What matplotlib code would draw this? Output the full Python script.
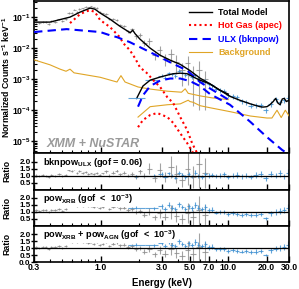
import numpy as np
import matplotlib.pyplot as plt
from matplotlib.ticker import LogLocator, NullFormatter, FixedLocator, FixedFormatter

# ---------------- data ----------------
# XMM (grey) spectrum
xmm_e = [0.31, 0.33, 0.35, 0.37, 0.39, 0.41, 0.44, 0.47, 0.50, 0.53, 0.56, 0.59, 0.62,
         0.65, 0.68, 0.72, 0.76, 0.80, 0.84, 0.88, 0.93, 0.98, 1.04, 1.10, 1.17, 1.25,
         1.33, 1.42, 1.52, 1.63, 1.75, 1.88, 2.02, 2.2, 2.4, 2.65, 2.9, 3.2, 3.55, 3.9,
         4.3, 4.8, 5.3, 5.9, 6.6]
xmm_flux = [0.069, 0.066, 0.072, 0.069, 0.062, 0.074, 0.072, 0.084, 0.076, 0.089, 0.133,
            0.137, 0.173, 0.15, 0.182, 0.192, 0.219, 0.209, 0.224, 0.204, 0.198, 0.147,
            0.132, 0.13, 0.088, 0.086, 0.081, 0.056, 0.052, 0.035, 0.040, 0.024, 0.026,
            0.015, 0.0165, 0.006, 0.0084, 0.0045, 0.0064, 0.0037, 0.002, 0.0032, 0.0014,
            0.002, 0.001]
xmm_relerr = [0.08, 0.08, 0.07, 0.07, 0.07, 0.07, 0.07, 0.06, 0.06, 0.06, 0.06, 0.06, 0.05,
              0.05, 0.05, 0.05, 0.05, 0.05, 0.05, 0.05, 0.05, 0.06, 0.06, 0.07, 0.08, 0.08,
              0.09, 0.1, 0.1, 0.12, 0.12, 0.15, 0.15, 0.2, 0.25, 0.3, 0.35, 0.4, 0.5, 0.6,
              0.7, 0.8, 0.9, 0.95, 0.9]

# NuSTAR (blue) spectrum
nu_e = [1.9, 2.6, 3.0, 3.2, 3.4, 3.6, 3.85, 4.1, 4.35, 4.6, 4.9, 5.2, 5.5, 5.8, 6.2, 6.6,
        7.0, 7.5, 8.0, 8.6, 9.3, 10.0, 10.8, 11.7, 12.7, 13.8, 15.0, 16.4, 18.0, 19.8,
        21.5, 23.5, 25.5, 27.5, 29.5]
nu_flux = [2.5e-4, 9.3e-4, 1.29e-3, 1.13e-3, 1.55e-3, 1.45e-3, 1.28e-3, 1.87e-3, 1.64e-3,
           1.35e-3, 1.49e-3, 1.2e-3, 1.32e-3, 1.0e-3, 8.4e-4, 8.9e-4, 7.0e-4, 6.3e-4,
           4.9e-4, 4.4e-4, 4.2e-4, 3.0e-4, 2.8e-4, 2.57e-4, 2.0e-4, 1.8e-4, 1.41e-4,
           1.47e-4, 1.43e-4, 1.0e-4, 1.6e-4, 2.3e-4, 1.84e-4, 2.2e-4, 2.5e-4]
nu_relerr = [0.1, 0.08, 0.12, 0.12, 0.12, 0.12, 0.12, 0.12, 0.12, 0.13, 0.13, 0.13, 0.14,
             0.14, 0.14, 0.15, 0.15, 0.15, 0.15, 0.16, 0.16, 0.17, 0.17, 0.18, 0.18, 0.18,
             0.19, 0.2, 0.2, 0.2, 0.2, 0.2, 0.2, 0.2, 0.2]

# model curves (XMM and NuSTAR responses)
tot_xmm_e = [0.3, 0.4, 0.574, 0.689, 0.825, 0.9, 0.99, 1.18, 1.41, 1.63, 1.70, 1.78, 1.86,
             2.03, 2.44, 2.92, 3.5, 4.2, 5.0, 6.0, 7.2, 8.6, 10.0]
tot_xmm_f = [0.069, 0.069, 0.1, 0.145, 0.195, 0.18, 0.135, 0.086, 0.051, 0.035, 0.031,
             0.038, 0.029, 0.0195, 0.01, 0.0059, 0.0041, 0.003, 0.0019, 0.00108, 0.0007,
             0.00044, 0.00033]
tot_nu_e = [1.93, 2.14, 2.44, 2.92, 3.33, 3.7, 4.2, 4.76, 5.5, 6.0, 7.2, 8.6, 10.3, 12.3,
            14.9, 17.7, 18.7, 20.1, 21.2, 22.5, 23.5, 24.5, 25.5, 26.5, 27.5, 28.5, 30.0]
tot_nu_f = [2.6e-4, 6.0e-4, 9.3e-4, 1.17e-3, 1.35e-3, 1.5e-3, 1.56e-3, 1.5e-3, 1.1e-3,
            9.3e-4, 7.0e-4, 4.4e-4, 2.8e-4, 2.1e-4, 1.6e-4, 1.3e-4, 1.26e-4, 1.3e-4,
            1.5e-4, 1.9e-4, 2.4e-4, 1.7e-4, 1.5e-4, 2.3e-4, 2.4e-4, 1.9e-4, 2.1e-4]

apec_xmm_e = [0.574, 0.689, 0.76, 0.825, 0.9, 0.99, 1.18, 1.41, 1.50, 1.69, 1.86, 2.03,
              2.29, 2.58, 2.92, 3.33, 3.7, 4.2, 4.76, 5.2, 5.69]
apec_xmm_f = [0.064, 0.125, 0.15, 0.168, 0.145, 0.08, 0.048, 0.0226, 0.0145, 0.0086,
              0.0047, 0.0024, 0.0016, 0.00093, 0.00056, 0.00026, 0.00017, 6.0e-5,
              2.3e-5, 8.7e-6, 4.2e-6]
apec_nu_e = [1.96, 2.14, 2.44, 2.77, 3.33, 3.7, 4.2, 4.76, 5.3]
apec_nu_f = [2.84e-5, 4.8e-5, 7.0e-5, 8.1e-5, 6.0e-5, 3.9e-5, 1.8e-5, 8.7e-6, 4.2e-6]

ulx_xmm_e = [0.3, 0.54, 0.99, 1.18, 1.34, 1.69, 2.44, 3.5, 4.76, 6.0, 7.2, 10.0]
ulx_xmm_f = [0.033, 0.041, 0.033, 0.026, 0.0226, 0.0156, 0.0074, 0.0035, 0.0019, 0.00081,
             0.0005, 0.00022]
ulx_nu_e = [1.96, 2.14, 2.44, 2.92, 3.5, 4.2, 5.0, 6.0, 7.2, 10.3, 14.9, 20.1, 26.5, 28.5]
ulx_nu_f = [1.3e-4, 3.0e-4, 6.0e-4, 9.0e-4, 1.05e-3, 1.05e-3, 8.7e-4, 6.0e-4, 3.3e-4,
            1.5e-4, 4.2e-5, 1.36e-5, 5.2e-6, 4.3e-6]

bkg_xmm_e = [0.3, 0.40, 0.48, 0.534, 0.574, 0.617, 0.99, 1.34, 1.44, 1.55, 1.96, 2.44,
             3.33, 4.3, 4.59, 4.85, 6.0, 7.45, 10.0]
bkg_xmm_f = [4.2e-3, 2.9e-3, 2.1e-3, 1.8e-3, 2.1e-3, 1.6e-3, 1.15e-3, 8.1e-4, 1.3e-3,
             8.1e-4, 5.6e-4, 4.8e-4, 4.1e-4, 3.8e-4, 4.9e-4, 3.5e-4, 2.9e-4, 2.5e-4, 2.2e-4]
bkg_nu_e = [1.96, 2.44, 3.33, 4.2, 4.85, 5.0, 5.3, 6.0, 7.2, 10.3, 14.9, 20.1, 22.0, 24.1,
            26.0, 28.0, 30.0]
bkg_nu_f = [6.0e-5, 1.3e-4, 1.5e-4, 1.6e-4, 2.1e-4, 1.9e-4, 1.8e-4, 1.4e-4, 1.2e-4,
            9.0e-5, 6.5e-5, 5.6e-5, 5.6e-5, 1.0e-4, 5.8e-5, 1.0e-4, 6.5e-5]

# ratio panels: data / model
ratio_xmm = [
    [1.0, 0.95, 1.05, 1.0, 0.9, 1.05, 1.0, 1.1, 0.95, 1.05, 1.4, 1.3, 1.5, 1.2, 1.3, 1.2,
     1.25, 1.1, 1.15, 1.1, 1.2, 1.05, 1.15, 1.3, 1.0, 1.2, 1.35, 1.1, 1.2, 1.0, 1.1, 0.9,
     1.3, 1.0, 1.5, 0.8, 1.4, 0.9, 1.6, 1.1, 0.7, 1.5, 0.9, 1.8, 1.2],
    [1.1, 1.05, 1.15, 1.1, 1.0, 1.15, 1.1, 1.2, 1.05, 1.2, 1.6, 1.5, 1.7, 1.45, 1.55, 1.45,
     1.5, 1.4, 1.45, 1.35, 1.45, 1.3, 1.35, 1.5, 1.2, 1.35, 1.45, 1.25, 1.3, 1.15, 1.2, 1.0,
     1.05, 0.8, 1.0, 0.6, 0.9, 0.65, 1.0, 0.7, 0.5, 0.9, 0.6, 1.1, 0.8],
    [1.05, 1.0, 1.1, 1.05, 0.95, 1.1, 1.05, 1.15, 1.0, 1.15, 1.55, 1.45, 1.65, 1.4, 1.5, 1.4,
     1.45, 1.35, 1.4, 1.3, 1.4, 1.25, 1.3, 1.45, 1.15, 1.3, 1.4, 1.2, 1.25, 1.1, 1.15, 0.95,
     1.0, 0.75, 0.95, 0.55, 0.85, 0.6, 0.95, 0.65, 0.45, 0.85, 0.55, 1.05, 0.75],
]
ratio_nu = [
    [0.95, 1.0, 1.1, 0.9, 1.15, 1.0, 0.85, 1.2, 1.05, 0.9, 1.1, 0.95, 1.2, 1.0, 0.9, 1.1,
     1.0, 1.05, 0.95, 1.0, 1.1, 0.9, 1.0, 1.05, 0.95, 1.0, 0.9, 1.05, 1.1, 0.8, 1.1, 1.0,
     1.15, 0.95, 1.2],
    [1.3, 1.25, 1.4, 1.2, 1.5, 1.3, 1.2, 1.55, 1.35, 1.2, 1.4, 1.25, 1.5, 1.3, 1.2, 1.35,
     1.1, 1.15, 0.95, 1.0, 1.0, 0.85, 0.9, 0.85, 0.8, 0.85, 0.75, 0.8, 0.85, 0.55, 0.9, 1.0,
     1.05, 1.15, 1.3],
    [1.25, 1.2, 1.35, 1.15, 1.45, 1.25, 1.15, 1.5, 1.3, 1.15, 1.35, 1.2, 1.45, 1.25, 1.15,
     1.3, 1.05, 1.1, 0.9, 0.95, 0.95, 0.8, 0.85, 0.8, 0.75, 0.8, 0.7, 0.75, 0.8, 0.5, 0.85,
     0.95, 1.0, 1.1, 1.25],
]
ratio_labels = [r"bknpow$_{\mathbf{ULX}}$ (gof = 0.06)",
                r"pow$_{\mathbf{XRB}}$ (gof  <  10$^{\mathbf{-3}}$)",
                r"pow$_{\mathbf{XRB}}$ + pow$_{\mathbf{AGN}}$ (gof  <  10$^{\mathbf{-3}}$)"]

xtick_vals = [0.3, 1.0, 3.0, 5.0, 7.0, 10.0, 20.0, 30.0]
xtick_text = ["0.3", "1.0", "3.0", "5.0", "7.0", "10.0", "20.0", "30.0"]

GREY = "#8c8c8c"
BLUE = "#3d8fd1"
ORANGE = "#e0a526"


def half_widths(e):
    e = np.asarray(e)
    mid = np.sqrt(e[1:] * e[:-1])
    lo = np.concatenate([[e[0] ** 2 / mid[0]], mid])
    hi = np.concatenate([mid, [e[-1] ** 2 / mid[-1]]])
    return np.vstack([e - lo, hi - e])


plt.rcParams["font.family"] = ["Liberation Sans", "DejaVu Sans"]
plt.rcParams["font.weight"] = "bold"
plt.rcParams["mathtext.fontset"] = "custom"
plt.rcParams["mathtext.rm"] = "Liberation Sans:bold"
plt.rcParams["mathtext.bf"] = "Liberation Sans:bold"
plt.rcParams["mathtext.it"] = "Liberation Sans:bold:italic"
plt.rcParams["mathtext.default"] = "bf"
plt.rcParams["axes.linewidth"] = 1.2

fig = plt.figure(figsize=(2.99, 2.89), dpi=100)
gs = fig.add_gridspec(4, 1, height_ratios=[4.2, 1, 1, 1], hspace=0,
                      left=0.114, right=0.967, top=0.9965, bottom=0.0934)
ax = fig.add_subplot(gs[0])
rax = [fig.add_subplot(gs[i], sharex=ax) for i in (1, 2, 3)]

# ---------------- main panel ----------------
xe_x = half_widths(xmm_e)
xe_n = half_widths(nu_e)
xf = np.asarray(xmm_flux)
nf = np.asarray(nu_flux)
ax.errorbar(xmm_e, xf, xerr=xe_x, yerr=xf * np.asarray(xmm_relerr), fmt="none",
            ecolor=GREY, elinewidth=0.8, alpha=0.8, zorder=2)
ax.errorbar(nu_e, nf, xerr=xe_n, yerr=nf * np.asarray(nu_relerr), fmt="none",
            ecolor=BLUE, elinewidth=0.8, alpha=0.8, zorder=2)

ax.plot(tot_xmm_e, tot_xmm_f, color="black", lw=1.0, zorder=5, label="Total Model")
ax.plot(tot_nu_e, tot_nu_f, color="black", lw=1.0, zorder=5)
ax.plot(apec_xmm_e, apec_xmm_f, color="red", lw=1.5, ls=(0, (1, 1.5)), zorder=4,
        label="Hot Gas (apec)")
ax.plot(apec_nu_e, apec_nu_f, color="red", lw=1.5, ls=(0, (1, 1.5)), zorder=4)
ax.plot(ulx_xmm_e, ulx_xmm_f, color="blue", lw=1.5, ls=(0, (4, 2.5)), zorder=4,
        label="ULX (bknpow)")
ax.plot(ulx_nu_e, ulx_nu_f, color="blue", lw=1.5, ls=(0, (4, 2.5)), zorder=4)
ax.plot(bkg_xmm_e, bkg_xmm_f, color=ORANGE, lw=0.8, zorder=3, label="Background")
ax.plot(bkg_nu_e, bkg_nu_f, color=ORANGE, lw=0.8, zorder=3)

ax.set_xscale("log")
ax.set_yscale("log")
ax.set_xlim(0.3, 30)
ax.set_ylim(4.1e-6, 0.33)
ax.set_yticks([1e-5, 1e-4, 1e-3, 1e-2, 1e-1])
ax.set_yticklabels([r"$10^{-5}$", r"$10^{-4}$", r"$10^{-3}$", r"$10^{-2}$", r"$10^{-1}$"])
ax.yaxis.set_minor_locator(LogLocator(base=10, subs=np.arange(2, 10), numticks=20))
ax.yaxis.set_minor_formatter(NullFormatter())
ax.set_ylabel(r"Normalized Counts s$^{-1}$ keV$^{-1}$", fontsize=6.3, fontweight="bold")

leg = ax.legend(loc="upper right", frameon=False, fontsize=6.5, handlelength=2.6,
                labelspacing=0.5, borderaxespad=0.35, handletextpad=0.7)
for txt, line in zip(leg.get_texts(), leg.get_lines()):
    txt.set_color(line.get_color())
    txt.set_fontweight("bold")

ax.text(0.05, 0.02, "XMM + NuSTAR", transform=ax.transAxes, fontsize=9,
        fontweight="bold", style="italic", color="#9a9a9a", ha="left", va="bottom")

# ---------------- ratio panels ----------------
for i, a in enumerate(rax):
    rx = np.asarray(ratio_xmm[i])
    rn = np.asarray(ratio_nu[i])
    a.errorbar(xmm_e, rx, xerr=xe_x, yerr=rx * np.asarray(xmm_relerr), fmt="none",
               ecolor=GREY, elinewidth=0.8, alpha=0.8, zorder=2)
    a.errorbar(nu_e, rn, xerr=xe_n, yerr=rn * np.asarray(nu_relerr), fmt="none",
               ecolor=BLUE, elinewidth=0.8, alpha=0.8, zorder=2)
    a.axhline(1.0, color="black", lw=0.9, zorder=3)
    a.set_ylim(0.0, 2.6)
    if i == 2:
        a.set_yticks([0.0, 0.5, 1.0, 1.5, 2.0])
    else:
        a.set_yticks([0.5, 1.0, 1.5, 2.0])
    a.set_ylabel("Ratio", fontsize=6.3, fontweight="bold")
    a.text(0.035, 0.93, ratio_labels[i], transform=a.transAxes, fontsize=6.6,
           fontweight="bold", ha="left", va="top", zorder=6,
           bbox=dict(facecolor="white", edgecolor="none", pad=0.6))

for a in [ax] + rax:
    a.tick_params(which="both", direction="in", labelsize=6.3, pad=1.5)
    a.tick_params(which="major", length=4, width=1.0)
    a.tick_params(which="minor", length=2, width=0.8)
    a.tick_params(axis="y", which="major", direction="inout", length=4, pad=0.5)
    a.xaxis.set_major_locator(FixedLocator(xtick_vals))
    a.xaxis.set_minor_locator(LogLocator(base=10, subs=np.arange(2, 10), numticks=20))
    a.xaxis.set_minor_formatter(NullFormatter())
    a.yaxis.set_label_coords(-0.088, 0.5)
    for lbl in a.get_yticklabels():
        lbl.set_fontweight("bold")

for a in rax:
    a.tick_params(axis="y", labelsize=5.8)

for a in [ax] + rax[:2]:
    a.tick_params(labelbottom=False)

rax[2].xaxis.set_major_formatter(FixedFormatter(xtick_text))
rax[2].tick_params(axis="x", pad=1)
for lbl in rax[2].get_xticklabels():
    lbl.set_fontweight("bold")
rax[2].set_xlabel("Energy (keV)", fontsize=7, fontweight="bold", labelpad=4)

fig.savefig("out.png", dpi=100)
